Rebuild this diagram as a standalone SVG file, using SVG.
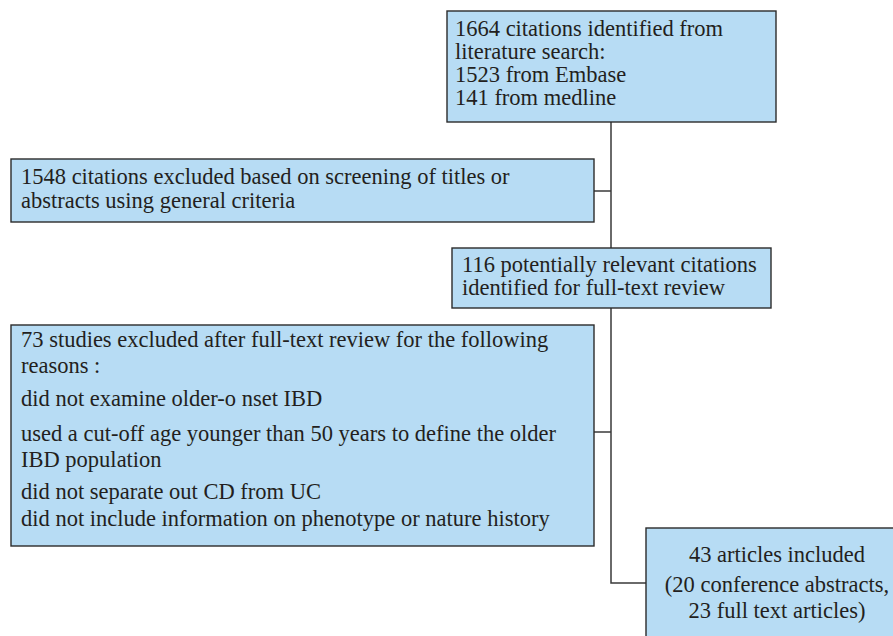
<svg xmlns="http://www.w3.org/2000/svg" width="893" height="636" viewBox="0 0 893 636" font-family="Liberation Serif, DejaVu Serif, serif" font-size="22.5">
<style>
.box{fill:#b7dcf4;stroke:#2b2b2b;stroke-width:1.4}
.c{fill:none;stroke:#3a3a3a;stroke-width:1.5}
text{fill:#231f20}
</style>
<rect width="893" height="636" fill="#ffffff"/>
<g id="connectors">
<path class="c" d="M611,122 V583 H646"/>
<path class="c" d="M594,191 H611"/>
<path class="c" d="M594,432 H611"/>
</g>
<g id="n1">
<rect class="box" x="447" y="11" width="329" height="111"/>
<text x="455" y="36">1664 citations identified from</text>
<text x="455" y="59">literature search:</text>
<text x="455" y="82">1523 from Embase</text>
<text x="455" y="105">141 from medline</text>
</g>
<g id="n2">
<rect class="box" x="11" y="159" width="583" height="63"/>
<text x="21" y="184">1548 citations excluded based on screening of titles or</text>
<text x="21" y="208">abstracts using general criteria</text>
</g>
<g id="n3">
<rect class="box" x="452" y="248" width="319" height="60"/>
<text x="462" y="272">116 potentially relevant citations</text>
<text x="462" y="295">identified for full-text review</text>
</g>
<g id="n4">
<rect class="box" x="11" y="325" width="583" height="221"/>
<text x="21" y="347">73 studies excluded after full-text review for the following</text>
<text x="21" y="373">reasons :</text>
<text x="21" y="406">did not examine older-o nset IBD</text>
<text x="21" y="441">used a cut-off age younger than 50 years to define the older</text>
<text x="21" y="467">IBD population</text>
<text x="21" y="499">did not separate out CD from UC</text>
<text x="21" y="526">did not include information on phenotype or nature history</text>
</g>
<g id="n5">
<rect class="box" x="646" y="528" width="262" height="120"/>
<text x="777" y="562" text-anchor="middle">43 articles included</text>
<text x="777" y="592" text-anchor="middle">(20 conference abstracts,</text>
<text x="777" y="618" text-anchor="middle">23 full text articles)</text>
</g>
</svg>
